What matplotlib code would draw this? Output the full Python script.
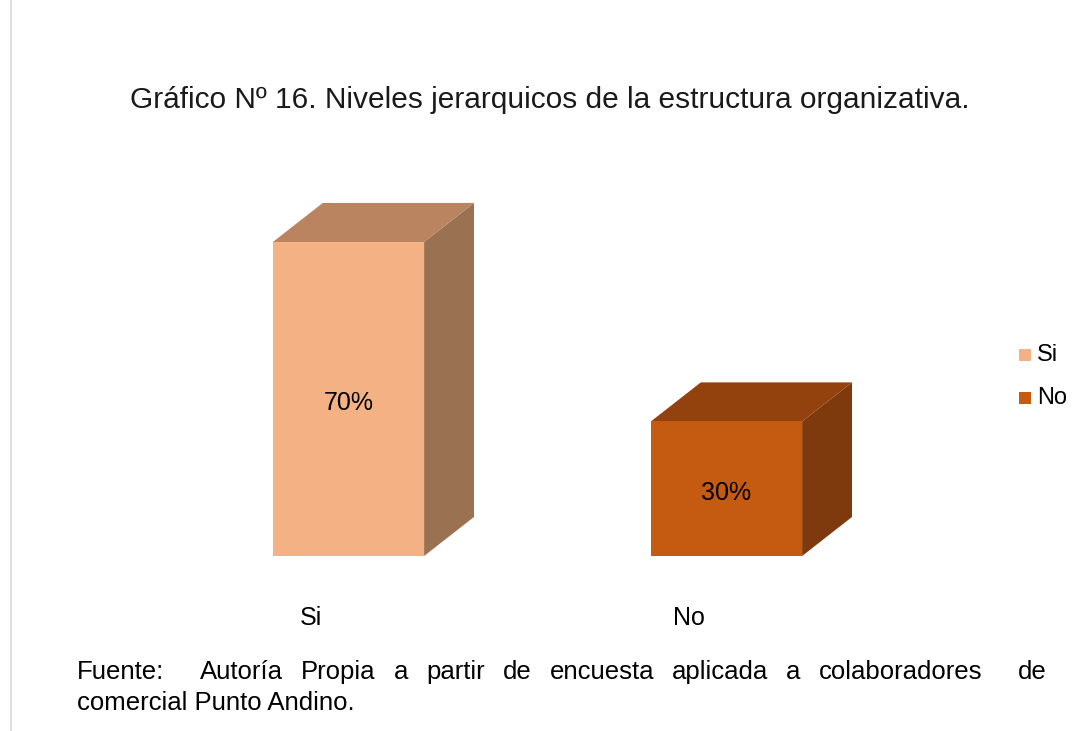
import matplotlib.pyplot as plt
from matplotlib.patches import Polygon, Rectangle
from matplotlib.lines import Line2D

plt.rcParams['font.family'] = ['Liberation Sans', 'DejaVu Sans']

# data
categories = ['Si', 'No']
values = [70, 30]
labels = ['70%', '30%']
front_colors = ['#F4B183', '#C55A11']
top_colors = ['#B9845F', '#93420D']
side_colors = ['#9A7252', '#7E390C']

title = 'Gráfico Nº 16. Niveles jerarquicos de la estructura organizativa.'
source_line1 = 'Fuente:  Autoría Propia a partir de encuesta aplicada a colaboradores  de'
source_line2 = 'comercial Punto Andino.'

W, H = 1079, 731
fig = plt.figure(figsize=(W / 100, H / 100), dpi=100)

# plot area: y=0 at px 556, 1% = 4.486 px; category spacing 378 px
ax = fig.add_axes([159.5 / W, (H - 556) / H, 756 / W, 448.6 / H])
ax.set_xlim(-0.5, 1.5)
ax.set_ylim(0, 100)
ax.axis('off')

bw = 0.4     # bar width
dx = 0.132   # depth in x units
dy = 8.7     # depth in y units

for i, (v, lab) in enumerate(zip(values, labels)):
    x0, x1 = i - bw / 2, i + bw / 2
    front = Rectangle((x0, 0), bw, v, facecolor=front_colors[i], edgecolor='none')
    top = Polygon([(x0, v), (x1, v), (x1 + dx, v + dy), (x0 + dx, v + dy)],
                  closed=True, facecolor=top_colors[i], edgecolor='none')
    side = Polygon([(x1, 0), (x1 + dx, dy), (x1 + dx, v + dy), (x1, v)],
                   closed=True, facecolor=side_colors[i], edgecolor='none')
    for p in (side, top, front):
        ax.add_patch(p)
    ax.text(i, v / 2 - 1, lab, ha='center', va='center', fontsize=18, color='black')
    ax.text(i - 0.1, -13.8, categories[i], ha='center', va='center', fontsize=18, color='black')

# title
fig.text(550 / W, 1 - 100 / H, title, ha='center', va='center', fontsize=21.5, color='#1a1a1a')

# legend
for i, c in enumerate(categories):
    yc = 1 - (355 + i * 43) / H
    fig.patches.append(Rectangle((1019 / W, yc - 6 / H), 12 / W, 12 / H,
                                 facecolor=front_colors[i], edgecolor='none',
                                 transform=fig.transFigure, figure=fig))
    fig.text(1037 / W, yc, c, ha='left', va='center', fontsize=17, color='black')

# left border line
fig.add_artist(Line2D([11 / W, 11 / W], [0, 1], color='#d9d9d9', lw=1.2,
                      transform=fig.transFigure))

# source text, first line justified
fig.canvas.draw()
r = fig.canvas.get_renderer()
words = source_line1.split()
x_left, x_right = 77, 1047
y1 = 1 - 672 / H
fs_src = 18.5
tmp = [fig.text(0, 0, w, fontsize=fs_src) for w in words]
widths = [t.get_window_extent(r).width for t in tmp]
for t in tmp:
    t.remove()
# keep the wider gaps after "Fuente:" and before "de"
weights = [2.0] + [1.0] * (len(words) - 3) + [2.0]
gap_total = (x_right - x_left) - sum(widths)
unit = gap_total / sum(weights)
x = x_left
for k, w in enumerate(words):
    fig.text(x / W, y1, w, ha='left', va='center', fontsize=fs_src, color='black')
    x += widths[k]
    if k < len(weights):
        x += unit * weights[k]
fig.text(x_left / W, 1 - 703 / H, source_line2, ha='left', va='center', fontsize=fs_src, color='black')

fig.savefig('out.png', dpi=100, facecolor='white')
